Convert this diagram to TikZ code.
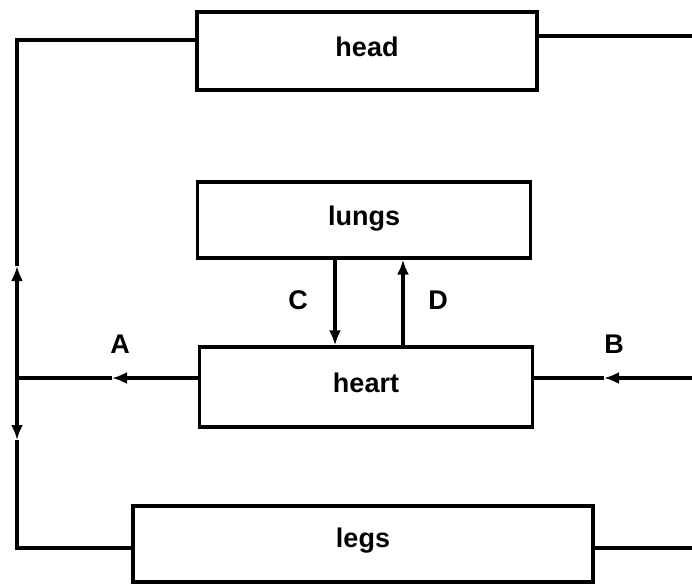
\documentclass[tikz,border=0pt]{standalone}
\usepackage{fontspec}
\setmainfont{Liberation Sans}
\usetikzlibrary{arrows.meta}

\begin{document}
\begin{tikzpicture}[x=1pt,y=-1pt,line width=3.2pt,
                    >={Latex[length=15pt,width=12pt]},
                    organ/.style={draw,rectangle,inner sep=0pt,
                                  font=\fontsize{27}{30}\bfseries\selectfont},
                    letter/.style={font=\fontsize{27}{30}\bfseries\selectfont}]
    \useasboundingbox (0,0) rectangle (692,584);

    % the boxes
    \node[organ, minimum width=340pt, minimum height=78pt] (head)  at (367,51)  {\raisebox{9pt}{head}};
    \node[organ, minimum width=333pt, minimum height=76pt] (lungs) at (364,220) {\raisebox{9pt}{lungs}};
    \node[organ, minimum width=333pt, minimum height=80pt] (heart) at (366,387) {\raisebox{8pt}{heart}};
    \node[organ, minimum width=460pt, minimum height=76pt] (legs)  at (363,544) {\raisebox{13pt}{legs}};

    % corners and arrow tips
    \coordinate (topleft) at (17,40);
    \coordinate (botleft) at (17,548);
    \coordinate (split)   at (17,378);
    \coordinate (uptip)   at (17,266);
    \coordinate (downtip) at (17,440);
    \coordinate (Atip)    at (112,378);
    \coordinate (Btip)    at (604,378);
    \coordinate (headout) at (692,36);
    \coordinate (heartin) at (692,378);
    \coordinate (legsout) at (692,548);
    \coordinate (Cx) at (335,0);
    \coordinate (Dx) at (403,0);

    % out of the heart, to head and legs
    \draw[->] (heart.west |- split) -- (Atip);
    \draw (Atip) -- (split);
    \draw[->] (split) -- (uptip);
    \draw (uptip) -- (topleft) -- (head.west |- topleft);
    \draw[->] (split) -- (downtip);
    \draw (downtip) -- (botleft) -- (legs.west |- botleft);

    % back into the heart
    \draw (head.east |- headout) -- (headout);
    \draw (legs.east |- legsout) -- (legsout);
    \draw[->] (heartin) -- (Btip);
    \draw (Btip) -- (heart.east |- heartin);

    % heart and lungs
    \draw[->] (lungs.south -| Cx) -- (heart.north -| Cx);
    \draw[->] (heart.north -| Dx) -- (lungs.south -| Dx);

    % labels
    \node[letter] (labA) at (120,344) {A};
    \node[letter] (labB) at (614,344) {B};
    \node[letter] (labC) at (298,300) {C};
    \node[letter] (labD) at (438,300) {D};
\end{tikzpicture}
\end{document}
